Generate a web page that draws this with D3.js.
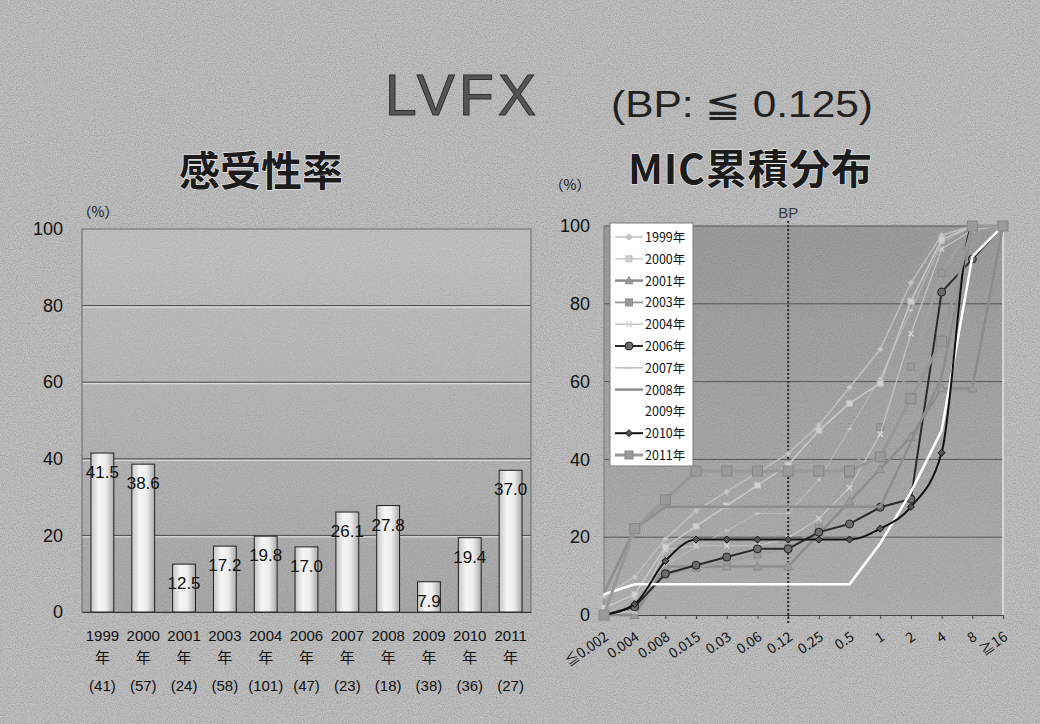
<!DOCTYPE html>
<html>
<head>
<meta charset="utf-8">
<script src="https://cdn.jsdelivr.net/npm/d3@7"></script>
<style>
  html, body { margin: 0; padding: 0; background: #b3b3b3; }
  svg { display: block; }
</style>
</head>
<body>
<svg id="chart" width="1040" height="724"></svg>
<script>
// ---- susceptibility (bar chart) ----
const years = ["1999", "2000", "2001", "2003", "2004", "2006", "2007", "2008", "2009", "2010", "2011"];
const susceptibility = [41.5, 38.6, 12.5, 17.2, 19.8, 17.0, 26.1, 27.8, 7.9, 19.4, 37.0];
const isolates = [41, 57, 24, 58, 101, 47, 23, 18, 38, 36, 27];
const yTicks = [0, 20, 40, 60, 80, 100];

// ---- cumulative MIC distribution (line chart) ----
const micLabels = ["≦0.002", "0.004", "0.008", "0.015", "0.03", "0.06", "0.12", "0.25", "0.5", "1", "2", "4", "8", "≧16"];
const seriesNames = ["1999年", "2000年", "2001年", "2003年", "2004年", "2006年", "2007年", "2008年", "2009年", "2010年", "2011年"];
const cum1999 = [4.9, 9.8, 19.5, 26.8, 31.7, 36.6, 41.5, 48.8, 58.5, 68.3, 85.4, 97.6, 100, 100];
const cum2000 = [1.8, 5.3, 17.5, 22.8, 28.1, 33.3, 38.6, 47.4, 54.4, 59.6, 80.7, 96.5, 100, 100];
const cum2001 = [0, 0, 12.5, 12.5, 12.5, 12.5, 12.5, 20.8, 29.2, 37.5, 45.8, 58.3, 58.3, 100];
const cum2003 = [0, 1.7, 10.3, 12.1, 13.8, 15.5, 17.2, 22.4, 36.2, 48.3, 63.8, 87.9, 100, 100];
const cum2004 = [0, 1.0, 16.8, 17.8, 17.8, 17.8, 19.8, 24.8, 32.7, 46.5, 72.3, 94.1, 99.0, 100];
const cum2006 = [0, 2.1, 10.6, 12.8, 14.9, 17.0, 17.0, 21.3, 23.4, 27.7, 29.8, 83.0, 91.5, 100];
const cum2007 = [0, 4.3, 13.0, 17.4, 21.7, 26.1, 26.1, 34.8, 47.8, 60.9, 78.3, 95.7, 100, 100];
const cum2008 = [5.6, 22.2, 27.8, 27.8, 27.8, 27.8, 27.8, 27.8, 27.8, 27.8, 44.4, 61.1, 100, 100];
const cum2009 = [5.3, 7.9, 7.9, 7.9, 7.9, 7.9, 7.9, 7.9, 7.9, 18.4, 31.6, 47.4, 92.1, 100];
const cum2010 = [0, 2.8, 13.9, 19.4, 19.4, 19.4, 19.4, 19.4, 19.4, 22.2, 27.8, 41.7, 100, 100];
const cum2011 = [0, 22.2, 29.6, 37.0, 37.0, 37.0, 37.0, 37.0, 37.0, 40.7, 55.6, 70.4, 100, 100];
const cumSeries = [cum1999, cum2000, cum2001, cum2003, cum2004, cum2006, cum2007, cum2008, cum2009, cum2010, cum2011];
const bpCategory = "0.12";

// line / marker appearance per series
const seriesStyle = [
  { stroke: "#bfbfbf", width: 1.5, marker: "diamond",  fill: "#c6c6c6", edge: "#b4b4b4", size: 6 },
  { stroke: "#c9c9c9", width: 1.5, marker: "square",   fill: "#d0d0d0", edge: "#bcbcbc", size: 6 },
  { stroke: "#8c8c8c", width: 2.5, marker: "triangle", fill: "#9b9b9b", edge: "#8a8a8a", size: 9 },
  { stroke: "#a0a0a0", width: 2,   marker: "square",   fill: "#9a9a9a", edge: "#8c8c8c", size: 7 },
  { stroke: "#c4c4c4", width: 1.2, marker: "x",        fill: "none",    edge: "#d2d2d2", size: 5 },
  { stroke: "#2a2a2a", width: 2,   marker: "circle",   fill: "#6c6c6c", edge: "#222222", size: 8 },
  { stroke: "#bcbcbc", width: 1,   marker: "dash",     fill: "none",    edge: "#c8c8c8", size: 4 },
  { stroke: "#8d8d8d", width: 2.5, marker: "none",     fill: "none",    edge: "none",    size: 0 },
  { stroke: "#ffffff", width: 2.5, marker: "none",     fill: "none",    edge: "none",    size: 0 },
  { stroke: "#111111", width: 2,   marker: "diamond",  fill: "#555555", edge: "#111111", size: 7, smooth: true },
  { stroke: "#979797", width: 3,   marker: "square",   fill: "#9a9a9a", edge: "#858585", size: 10 }
];

const svg = d3.select("#chart");
const latin = "'Liberation Sans', Arial, sans-serif";
const cjk = "'Noto Sans CJK JP', 'Liberation Sans', sans-serif";

// ---- defs: paper grain and fills ----
const defs = svg.append("defs");
const grain = defs.append("filter").attr("id", "grain").attr("x", 0).attr("y", 0).attr("width", 1).attr("height", 1);
grain.append("feTurbulence").attr("type", "fractalNoise").attr("baseFrequency", 0.85).attr("numOctaves", 2).attr("seed", 7);
grain.append("feColorMatrix").attr("type", "matrix")
  .attr("values", "1 0 0 0 0  1 0 0 0 0  1 0 0 0 0  0 0 0 0 0.35");

const leftBg = defs.append("linearGradient").attr("id", "leftBg").attr("x1", 0).attr("y1", 0).attr("x2", 0).attr("y2", 1);
leftBg.append("stop").attr("offset", "0%").attr("stop-color", "#bdbdbd");
leftBg.append("stop").attr("offset", "100%").attr("stop-color", "#9e9e9e");

const rightBg = defs.append("linearGradient").attr("id", "rightBg").attr("x1", 0).attr("y1", 0).attr("x2", 0).attr("y2", 1);
rightBg.append("stop").attr("offset", "0%").attr("stop-color", "#8e8e8e");
rightBg.append("stop").attr("offset", "100%").attr("stop-color", "#a6a6a6");

const barFill = defs.append("linearGradient").attr("id", "barFill").attr("x1", 0).attr("y1", 0).attr("x2", 1).attr("y2", 0);
[["0%", "#c4c4c4"], ["35%", "#f6f6f6"], ["65%", "#ececec"], ["100%", "#a9a9a9"]]
  .forEach(([o, c]) => barFill.append("stop").attr("offset", o).attr("stop-color", c));

// slide background
svg.append("rect").attr("width", 1040).attr("height", 724).attr("fill", "#b3b3b3");
svg.append("rect").attr("width", 1040).attr("height", 724).attr("filter", "url(#grain)");

// ---- titles ----
svg.append("text").attr("x", 385).attr("y", 115)
  .attr("font-family", latin).attr("font-size", 57).attr("textLength", 151)
  .attr("fill", "#555").attr("stroke", "#2e2e2e").attr("stroke-width", 1)
  .text("LVFX");
svg.append("text").attr("x", 611).attr("y", 117)
  .attr("font-family", latin).attr("font-size", 37).attr("textLength", 262).attr("lengthAdjust", "spacingAndGlyphs")
  .attr("fill", "#222").text("(BP: ≦ 0.125)");
svg.append("text").attr("x", 261).attr("y", 186).attr("text-anchor", "middle")
  .attr("font-family", cjk).attr("font-size", 41).attr("font-weight", "bold")
  .attr("fill", "#1c1c1c").attr("stroke", "#f2f2f2").attr("stroke-width", 1.2).attr("paint-order", "stroke")
  .text("感受性率");
svg.append("text").attr("x", 628).attr("y", 184)
  .attr("font-family", cjk).attr("font-size", 41).attr("font-weight", "bold").attr("textLength", 244)
  .attr("fill", "#1c1c1c").attr("stroke", "#f2f2f2").attr("stroke-width", 1.2).attr("paint-order", "stroke")
  .text("MIC累積分布");

// =========================================================
// left: susceptibility bar chart
// =========================================================
const x1 = d3.scaleBand().domain(years).range([82, 531]).paddingInner(0.44).paddingOuter(0.22);
const y1 = d3.scaleLinear().domain([0, 100]).range([612, 229]);

const left = svg.append("g");
left.append("rect").attr("x", 82).attr("y", 229).attr("width", 449).attr("height", 383)
  .attr("fill", "url(#leftBg)");
left.append("rect").attr("x", 82).attr("y", 229).attr("width", 449).attr("height", 383)
  .attr("filter", "url(#grain)").attr("opacity", 0.6);

// grid lines with a light edge below each
left.append("g").selectAll("line.hi").data(yTicks.filter(d => d > 0 && d < 100)).join("line")
  .attr("x1", 82).attr("x2", 531).attr("y1", d => y1(d) + 1.5).attr("y2", d => y1(d) + 1.5)
  .attr("stroke", "#e6e6e6").attr("stroke-width", 1);
left.append("g").selectAll("line.grid").data(yTicks.filter(d => d > 0 && d < 100)).join("line")
  .attr("x1", 82).attr("x2", 531).attr("y1", d => y1(d)).attr("y2", d => y1(d))
  .attr("stroke", "#4a4a4a").attr("stroke-width", 1);
left.append("rect").attr("x", 82).attr("y", 229).attr("width", 449).attr("height", 383)
  .attr("fill", "none").attr("stroke", "#6a6a6a").attr("stroke-width", 1);

// bars
left.append("g").selectAll("rect").data(years).join("rect")
  .attr("x", d => x1(d)).attr("width", x1.bandwidth())
  .attr("y", (d, i) => y1(susceptibility[i])).attr("height", (d, i) => y1(0) - y1(susceptibility[i]))
  .attr("fill", "url(#barFill)").attr("stroke", "#202020").attr("stroke-width", 1);

// value labels
left.append("g").selectAll("text").data(years).join("text")
  .attr("x", d => x1(d) + x1.bandwidth() / 2)
  .attr("y", (d, i) => y1(susceptibility[i]) + 25)
  .attr("text-anchor", "middle").attr("font-family", latin).attr("font-size", 17)
  .attr("fill", "#111")
  .text((d, i) => susceptibility[i].toFixed(1));

// y axis
const yAxisL = left.append("g").attr("transform", "translate(82,0)")
  .call(d3.axisLeft(y1).tickValues(yTicks).tickSize(0).tickPadding(19));
yAxisL.select(".domain").remove();
yAxisL.selectAll("text").attr("font-family", latin).attr("font-size", 18).attr("fill", "#111");
left.append("text").attr("x", 98).attr("y", 217).attr("text-anchor", "middle")
  .attr("font-family", cjk).attr("font-size", 14).attr("fill", "#111").text("（%）");

// x axis: year / 年 / (n)
const xAxisL = left.append("g").attr("transform", "translate(0,612)")
  .call(d3.axisBottom(x1).tickSize(0).tickPadding(0));
xAxisL.select(".domain").attr("stroke", "#333");
xAxisL.selectAll(".tick text").each(function (d, i) {
  const t = d3.select(this).text(null).attr("y", 0).attr("dy", null)
    .attr("font-family", latin).attr("font-size", 15).attr("fill", "#111");
  t.append("tspan").attr("x", 0).attr("y", 29).text(d);
  t.append("tspan").attr("x", 0).attr("y", 51).attr("font-family", cjk).text("年");
  t.append("tspan").attr("x", 0).attr("y", 79).text("(" + isolates[i] + ")");
});

// =========================================================
// right: cumulative MIC distribution
// =========================================================
const x2 = d3.scalePoint().domain(micLabels).range([604, 1003]);
const y2 = d3.scaleLinear().domain([0, 100]).range([615, 226]);

const right = svg.append("g");
right.append("rect").attr("x", 604).attr("y", 226).attr("width", 399).attr("height", 389)
  .attr("fill", "url(#rightBg)");
right.append("rect").attr("x", 604).attr("y", 226).attr("width", 399).attr("height", 389)
  .attr("filter", "url(#grain)").attr("opacity", 0.6);

right.append("g").selectAll("line").data(yTicks.filter(d => d > 0)).join("line")
  .attr("x1", 604).attr("x2", 1003).attr("y1", d => y2(d)).attr("y2", d => y2(d))
  .attr("stroke", "#555").attr("stroke-width", 1);
right.append("line").attr("x1", 1003).attr("x2", 1003).attr("y1", 226).attr("y2", 615)
  .attr("stroke", "#e4e4e4").attr("stroke-width", 1.5);
right.append("line").attr("x1", 604).attr("x2", 604).attr("y1", 226).attr("y2", 615)
  .attr("stroke", "#777").attr("stroke-width", 1);

// y axis
const yAxisR = right.append("g").attr("transform", "translate(604,0)")
  .call(d3.axisLeft(y2).tickValues(yTicks).tickSize(0).tickPadding(14));
yAxisR.select(".domain").remove();
yAxisR.selectAll("text").attr("font-family", latin).attr("font-size", 18).attr("fill", "#111");
right.append("text").attr("x", 570).attr("y", 190).attr("text-anchor", "middle")
  .attr("font-family", cjk).attr("font-size", 14).attr("fill", "#111").text("（%）");

// x axis with rotated MIC labels
const xAxisR = right.append("g").attr("transform", "translate(0,615)")
  .call(d3.axisBottom(x2).tickSize(4));
xAxisR.select(".domain").attr("stroke", "#444");
xAxisR.selectAll(".tick line").attr("stroke", "#444");
xAxisR.selectAll(".tick text")
  .attr("x", 0).attr("y", 0).attr("dy", null)
  .attr("transform", "translate(5,24) rotate(-35)")
  .style("text-anchor", "end")
  .attr("font-family", cjk).attr("font-size", 14).attr("fill", "#111");

// BP reference line
right.append("line").attr("x1", x2(bpCategory)).attr("x2", x2(bpCategory)).attr("y1", 221).attr("y2", 624)
  .attr("stroke", "#2a2a2a").attr("stroke-width", 2).attr("stroke-dasharray", "2,2");
right.append("text").attr("x", x2(bpCategory)).attr("y", 218).attr("text-anchor", "middle")
  .attr("font-family", latin).attr("font-size", 15).attr("fill", "#3a3a3a").text("BP");

// marker drawing
function drawMarker(g, type, s, st) {
  const h = s / 2;
  if (type === "none") return;
  if (type === "circle") {
    g.append("circle").attr("r", h).attr("fill", st.fill).attr("stroke", st.edge).attr("stroke-width", 1);
  } else if (type === "square") {
    g.append("rect").attr("x", -h).attr("y", -h).attr("width", s).attr("height", s)
      .attr("fill", st.fill).attr("stroke", st.edge).attr("stroke-width", 1);
  } else if (type === "diamond") {
    g.append("path").attr("d", `M0,${-h}L${h},0L0,${h}L${-h},0Z`)
      .attr("fill", st.fill).attr("stroke", st.edge).attr("stroke-width", 1);
  } else if (type === "triangle") {
    g.append("path").attr("d", `M0,${-h}L${h},${h * 0.8}L${-h},${h * 0.8}Z`)
      .attr("fill", st.fill).attr("stroke", st.edge).attr("stroke-width", 1);
  } else if (type === "x") {
    g.append("path").attr("d", `M${-h},${-h}L${h},${h}M${-h},${h}L${h},${-h}`)
      .attr("stroke", st.edge).attr("stroke-width", 1.5);
  } else if (type === "dash") {
    g.append("path").attr("d", `M${-h},0L${h},0`).attr("stroke", st.edge).attr("stroke-width", 2);
  }
}

// series lines
const lines = right.append("g");
cumSeries.forEach((vals, si) => {
  const st = seriesStyle[si];
  const pts = micLabels.map((c, i) => [x2(c), y2(vals[i])]);
  const gen = d3.line().curve(st.smooth ? d3.curveMonotoneX : d3.curveLinear);
  const g = lines.append("g");
  g.append("path").attr("d", gen(pts)).attr("fill", "none")
    .attr("stroke", st.stroke).attr("stroke-width", st.width).attr("stroke-linejoin", "round");
  g.selectAll("g").data(pts).join("g")
    .attr("transform", p => `translate(${p[0]},${p[1]})`)
    .each(function () { drawMarker(d3.select(this), st.marker, st.size, st); });
});

// legend
const legend = right.append("g");
legend.append("rect").attr("x", 610).attr("y", 223).attr("width", 83).attr("height", 243)
  .attr("fill", "#ffffff").attr("stroke", "#7a7a7a").attr("stroke-width", 1);
const legendY = d3.scalePoint().domain(seriesNames).range([237, 455]);
seriesNames.forEach((name, si) => {
  const st = seriesStyle[si];
  const cy = legendY(name);
  const g = legend.append("g");
  g.append("line").attr("x1", 615).attr("x2", 643).attr("y1", cy).attr("y2", cy)
    .attr("stroke", st.stroke).attr("stroke-width", Math.max(st.width, 1.5));
  const m = g.append("g").attr("transform", `translate(629,${cy})`);
  drawMarker(m, st.marker, Math.min(Math.max(st.size, 6), 8), st);
  g.append("text").attr("x", 645).attr("y", cy + 5)
    .attr("font-family", cjk).attr("font-size", 12.5).attr("fill", "#111").text(name);
});
</script>
</body>
</html>
